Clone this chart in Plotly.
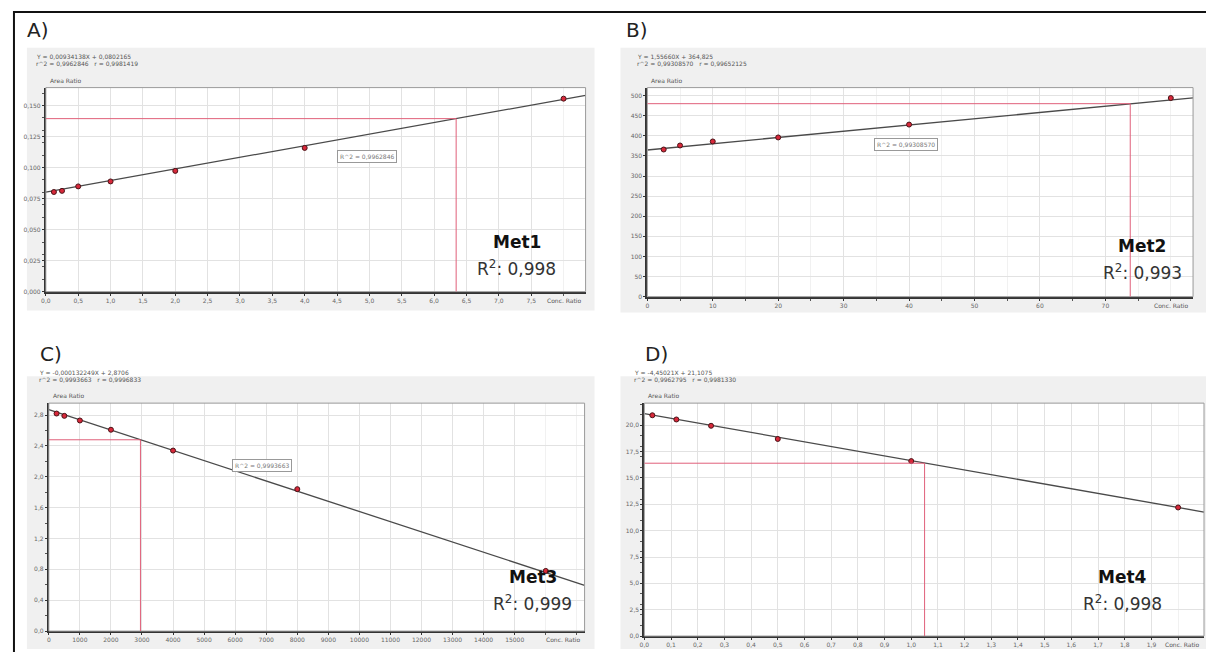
import plotly.graph_objects as go

W, H = 1206, 652

# ---------------- data ----------------
A_x = [0.125, 0.25, 0.5, 1.0, 2.0, 4.0, 8.0]
A_y = [0.0803, 0.0812, 0.0848, 0.0888, 0.0973, 0.1158, 0.1555]
A_fit = (0.00934, 0.0802)          # slope, intercept
A_quant = (6.34, 0.1394)
A_xticks = [0, 0.5, 1, 1.5, 2, 2.5, 3, 3.5, 4, 4.5, 5, 5.5, 6, 6.5, 7, 7.5]
A_yticks = [0, 0.025, 0.05, 0.075, 0.1, 0.125, 0.15]

B_x = [2.5, 5, 10, 20, 40, 80]
B_y = [366, 376, 386, 396, 428, 494]
B_fit = (1.5566, 364.8)
B_quant = (73.8, 480)
B_xticks = [0, 10, 20, 30, 40, 50, 60, 70]
B_yticks = [0, 50, 100, 150, 200, 250, 300, 350, 400, 450, 500]

C_x = [250, 500, 1000, 2000, 4000, 8000, 16000]
C_y = [2.82, 2.79, 2.73, 2.61, 2.34, 1.84, 0.78]
C_fit = (-0.000132, 2.87)
C_quant = (2950, 2.48)
C_xticks = [0, 1000, 2000, 3000, 4000, 5000, 6000, 7000, 8000, 9000, 10000,
            11000, 12000, 13000, 14000, 15000]
C_yticks = [0, 0.4, 0.8, 1.2, 1.6, 2.0, 2.4, 2.8]

D_x = [0.03, 0.12, 0.25, 0.5, 1.0, 2.0]
D_y = [20.95, 20.55, 19.95, 18.7, 16.6, 12.2]
D_fit = (-4.45, 21.1)
D_quant = (1.05, 16.4)
D_xticks = [0, 0.1, 0.2, 0.3, 0.4, 0.5, 0.6, 0.7, 0.8, 0.9, 1.0, 1.1, 1.2, 1.3,
            1.4, 1.5, 1.6, 1.7, 1.8, 1.9]
D_yticks = [0, 2.5, 5, 7.5, 10, 12.5, 15, 17.5, 20]

panels = [
    dict(key="A", x=A_x, y=A_y, fit=A_fit, q=A_quant, xt=A_xticks, yt=A_yticks,
         xfmt="{:.1f}", yfmt="{:.3f}", box=(41, 583, 88, 293),
         xr=[0, 8.34], yr=[0, 0.1644],
         eq=["Y = 0,00934138X + 0,0802165", "r^2 = 0,9962846   r = 0,9981419"],
         r2box="R^2 = 0,9962846", r2pos=(364, 157),
         label="A)", labpos=(20, 30), met="Met1", mpos=(514, 243), r2="0,998",
         gray=(22, 592, 48, 312)),
    dict(key="B", x=B_x, y=B_y, fit=B_fit, q=B_quant, xt=B_xticks, yt=B_yticks,
         xfmt="{:.0f}", yfmt="{:.0f}", box=(645, 1193, 88, 298),
         xr=[0, 83.4], yr=[0, 520],
         eq=["Y = 1,55660X + 364,825", "r^2 = 0,99308570   r = 0,99652125"],
         r2box="R^2 = 0,99308570", r2pos=(905, 145),
         label="B)", labpos=(622, 30), met="Met2", mpos=(1142, 247), r2="0,993",
         gray=(618, 1206, 48, 314)),
    dict(key="C", x=C_x, y=C_y, fit=C_fit, q=C_quant, xt=C_xticks, yt=C_yticks,
         xfmt="{:.0f}", yfmt="{:.1f}", box=(44, 582, 405, 634),
         xr=[0, 17250], yr=[0, 2.955],
         eq=["Y = -0,000132249X + 2,8706", "r^2 = 0,9993663   r = 0,9996833"],
         r2box="R^2 = 0,9993663", r2pos=(258, 468),
         label="C)", labpos=(33, 356), met="Met3", mpos=(530, 580), r2="0,999",
         gray=(22, 592, 378, 652)),
    dict(key="D", x=D_x, y=D_y, fit=D_fit, q=D_quant, xt=D_xticks, yt=D_yticks,
         xfmt="{:.1f}", yfmt="{:.1f}", box=(642, 1204, 405, 639),
         xr=[0, 2.097], yr=[0, 22.1],
         eq=["Y = -4,45021X + 21,1075", "r^2 = 0,9962795   r = 0,9981330"],
         r2box=None, r2pos=None,
         label="D)", labpos=(641, 356), met="Met4", mpos=(1122, 580), r2="0,998",
         gray=(618, 1206, 378, 652)),
]


def px(x):
    return x / W


def py(y):
    return 1 - y / H


fig = go.Figure()
shapes = []
annotations = []
layout_axes = {}

FONT = "DejaVu Sans"
RED = "#e0607a"

# outer border
shapes.append(dict(type="rect", xref="paper", yref="paper",
                   x0=px(9), x1=px(1215), y0=py(12), y1=py(665),
                   line=dict(color="#111", width=2), layer="above"))

for i, p in enumerate(panels):
    n = "" if i == 0 else str(i + 1)
    xa, ya = "x" + n, "y" + n
    x0, x1, y0, y1 = p["box"]
    g = p["gray"]
    # gray panel background
    shapes.append(dict(type="rect", xref="paper", yref="paper",
                       x0=px(g[0]), x1=px(g[1]), y0=py(g[3]), y1=py(g[2]),
                       fillcolor="#f0f0f0", line=dict(width=0), layer="below"))
    # white plot area
    shapes.append(dict(type="rect", xref="paper", yref="paper",
                       x0=px(x0), x1=px(x1), y0=py(y1), y1=py(y0),
                       fillcolor="white", line=dict(width=0), layer="below"))
    # thin plot frame (top/right)
    shapes.append(dict(type="rect", xref="paper", yref="paper",
                       x0=px(x0), x1=px(x1), y0=py(y1), y1=py(y0),
                       line=dict(color="#9a9a9a", width=1), layer="above"))

    tickfont = dict(family=FONT, size=6, color="#666")
    layout_axes["xaxis" + n] = dict(
        domain=[px(x0), px(x1)], anchor=ya, range=p["xr"],
        tickvals=p["xt"], ticktext=[p["xfmt"].format(v).replace(".", ",") for v in p["xt"]],
        showgrid=True, gridcolor="#e2e2e2", gridwidth=1, zeroline=False,
        showline=True, linecolor="#333", linewidth=2,
        ticks="outside", ticklen=2, tickcolor="#333", tickfont=tickfont,
        minor=dict(ticks="outside", ticklen=2, tickcolor="#555", nticks=5,
                   showgrid=True, gridcolor="#f1f1f1"),
        fixedrange=True)
    layout_axes["yaxis" + n] = dict(
        domain=[py(y1), py(y0)], anchor=xa, range=p["yr"],
        tickvals=p["yt"], ticktext=[p["yfmt"].format(v).replace(".", ",") for v in p["yt"]],
        showgrid=True, gridcolor="#e2e2e2", gridwidth=1, zeroline=False,
        showline=True, linecolor="#333", linewidth=2,
        ticks="outside", ticklen=2, tickcolor="#333", tickfont=tickfont,
        minor=dict(ticks="outside", ticklen=2, tickcolor="#555", nticks=5,
                   showgrid=False),
        fixedrange=True)

    # quantitation red lines
    qx, qy = p["q"]
    shapes.append(dict(type="line", xref=xa, yref=ya, x0=0, x1=qx, y0=qy, y1=qy,
                       line=dict(color=RED, width=1)))
    shapes.append(dict(type="line", xref=xa, yref=ya, x0=qx, x1=qx, y0=0, y1=qy,
                       line=dict(color=RED, width=1)))

    # regression line
    m, b = p["fit"]
    xs = [p["xr"][0], p["xr"][1]]
    fig.add_trace(go.Scatter(x=xs, y=[m * v + b for v in xs], mode="lines",
                             line=dict(color="#4a4a4a", width=1.3),
                             xaxis=xa, yaxis=ya, showlegend=False,
                             hoverinfo="skip"))
    # data points
    fig.add_trace(go.Scatter(x=p["x"], y=p["y"], mode="markers",
                             marker=dict(symbol="circle", size=5, color="#d8283a",
                                         line=dict(color="#4a1418", width=1)),
                             xaxis=xa, yaxis=ya, showlegend=False))

    # panel label
    annotations.append(dict(xref="paper", yref="paper", x=px(p["labpos"][0]),
                            y=py(p["labpos"][1]), xanchor="left", yanchor="middle",
                            text=p["label"], showarrow=False,
                            font=dict(family=FONT, size=20, color="#222")))
    # equation header (two lines)
    for k, line in enumerate(p["eq"]):
        annotations.append(dict(xref="paper", yref="paper", x=px(x0 - 12),
                                y=py(y0 - 31 + 7 * k), xanchor="left",
                                yanchor="middle", text=line, showarrow=False,
                                font=dict(family=FONT, size=6, color="#555")))
    # axis titles
    annotations.append(dict(xref="paper", yref="paper", x=px(x0 + 2),
                            y=py(y0 - 2), xanchor="left", yanchor="bottom",
                            text="Area Ratio", showarrow=False,
                            font=dict(family=FONT, size=6, color="#555")))
    annotations.append(dict(xref="paper", yref="paper", x=px(x1 - 2),
                            y=py(y1 + 3), xanchor="right", yanchor="top",
                            text="Conc. Ratio", showarrow=False,
                            font=dict(family=FONT, size=6, color="#555")))
    # R^2 box
    if p["r2box"]:
        annotations.append(dict(xref="paper", yref="paper", x=px(p["r2pos"][0]),
                                y=py(p["r2pos"][1]), xanchor="center",
                                yanchor="middle", text=p["r2box"], showarrow=False,
                                bgcolor="white", bordercolor="#999", borderwidth=1,
                                borderpad=2,
                                font=dict(family=FONT, size=6, color="#777")))
    # Met label and R2
    annotations.append(dict(xref="paper", yref="paper", x=px(p["mpos"][0]),
                            y=py(p["mpos"][1]), xanchor="center", yanchor="middle",
                            text="<b>" + p["met"] + "</b>", showarrow=False,
                            font=dict(family=FONT, size=17, color="#111")))
    annotations.append(dict(xref="paper", yref="paper", x=px(p["mpos"][0]),
                            y=py(p["mpos"][1] + 26), xanchor="center",
                            yanchor="middle",
                            text="R<sup>2</sup>: " + p["r2"], showarrow=False,
                            font=dict(family=FONT, size=17, color="#333")))

fig.update_layout(
    width=W, height=H, margin=dict(l=0, r=0, t=0, b=0),
    paper_bgcolor="white", plot_bgcolor="white",
    shapes=shapes, annotations=annotations, showlegend=False,
    **layout_axes)

fig.write_html("out.html",
               config={"displayModeBar": False},
               post_script="document.body.style.margin='0';"
                           "document.body.style.overflow='hidden';")
